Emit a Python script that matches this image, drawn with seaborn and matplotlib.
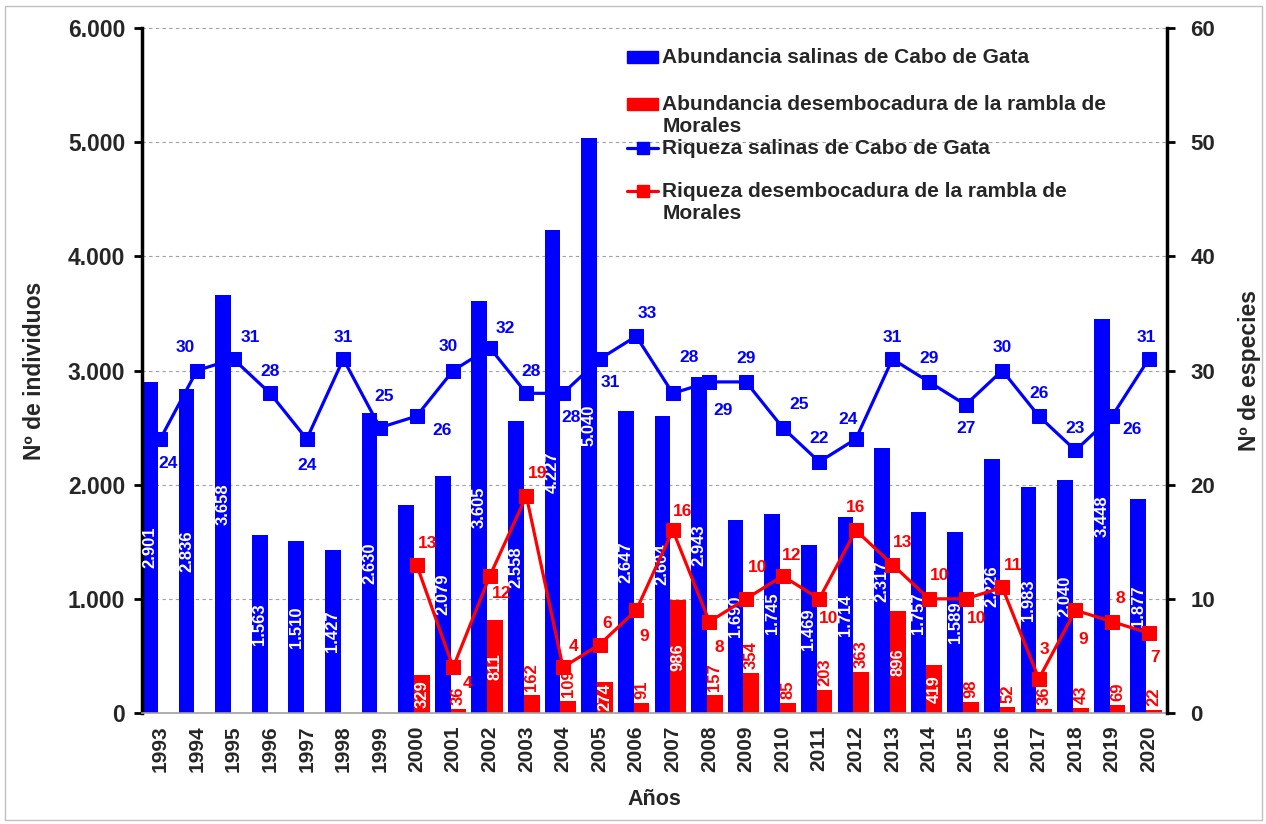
import numpy as np
import pandas as pd
import matplotlib
matplotlib.use("Agg")
import matplotlib.pyplot as plt
import seaborn as sns
from matplotlib.patches import Patch, Rectangle
from matplotlib.lines import Line2D
from matplotlib.ticker import FuncFormatter, FixedLocator

nan = np.nan
# ---------------- data ----------------
years = list(range(1993, 2021))
abund_salinas = [2901, 2836, 3658, 1563, 1510, 1427, 2630, 1820, 2079, 3605, 2558, 4227,
                 5040, 2647, 2604, 2943, 1690, 1745, 1469, 1714, 2317, 1757, 1589, 2226,
                 1983, 2040, 3448, 1877]
abund_rambla = [nan] * 7 + [329, 36, 811, 162, 109, 274, 91, 986, 157, 354, 85, 203, 363,
                            896, 419, 98, 52, 36, 43, 69, 22]
riq_salinas = [24, 30, 31, 28, 24, 31, 25, 26, 30, 32, 28, 28, 31, 33, 28, 29, 29, 25, 22,
               24, 31, 29, 27, 30, 26, 23, 26, 31]
riq_rambla = [nan] * 7 + [13, 4, 12, 19, 4, 6, 9, 16, 8, 10, 12, 10, 16, 13, 10, 10, 11, 3,
                          9, 8, 7]
series = ["Abundancia salinas de Cabo de Gata",
          "Abundancia desembocadura de la rambla de\nMorales",
          "Riqueza salinas de Cabo de Gata",
          "Riqueza desembocadura de la rambla de\nMorales"]

# ---------------- styling / placement ----------------
BLUE, RED = "#0000FF", "#FF0000"
W, H = 1266, 824
sns.set_style("white")
plt.rcParams["font.family"] = ["Liberation Sans", "DejaVu Sans"]
plt.rcParams["font.weight"] = "bold"

hide_bar_label_years = [2000]
red_inside_years = [2000, 2002, 2005, 2007, 2013, 2014]
# label offsets in pixels (dx, dy downward)
blue_off = [(8, 24), (-12, -23), (17, -22), (0, -22), (0, 26), (0, -22), (4, -31), (26, 14),
            (-5, -24), (16, -19), (5, -22), (8, 24), (11, 23), (11, -23), (16, -36), (14, 29),
            (0, -23), (17, -23), (0, -23), (-8, -20), (0, -22), (0, -23), (0, 24), (0, -23),
            (0, -23), (0, -22), (20, 13), (-2, -22)]
red_off = [(11, -21), (14, 16), (12, 18), (11, -23), (11, -21), (8, -21), (8, 26), (10, -19),
           (10, 26), (12, -31), (9, -21), (9, 20), (0, -23), (10, -22), (11, -23), (11, 20),
           (11, -22), (6, -29), (8, 29), (8, -23), (6, 24)]

fig = plt.figure(figsize=(W / 100, H / 100), dpi=100)
ax = fig.add_axes([142 / W, 1 - 713 / H, (1167 - 142) / W, (713 - 28) / H])

ycat = [str(y) for y in years]
df = pd.DataFrame({
    "year": ycat * 2,
    "serie": [series[0]] * len(years) + [series[1]] * len(years),
    "valor": abund_salinas + abund_rambla,
}).dropna()

sns.barplot(data=df, x="year", y="valor", hue="serie", order=ycat,
            hue_order=series[:2], palette=[BLUE, RED], width=0.86, dodge=True,
            saturation=1, errorbar=None, linewidth=0, ax=ax, legend=False)

# shift bar pairs slightly left within the category as in the reference
for c in ax.containers:
    for p in c.patches:
        p.set_x(p.get_x() - 0.07)

ax.set_ylim(0, 6000)
ax.set_xlim(-0.5, len(years) - 0.5)
ax.yaxis.set_major_locator(FixedLocator(np.arange(0, 6001, 1000)))
ax.yaxis.set_major_formatter(FuncFormatter(lambda v, p: f"{int(v):,}".replace(",", ".")))
ax.yaxis.grid(True, linestyle=(0, (3, 3)), color="#a0a0a0", linewidth=0.8)
ax.set_axisbelow(True)

# bar labels
blue_bars = ax.containers[0]
red_bars = ax.containers[1]
for p, v, yr in zip(blue_bars.patches, abund_salinas, years):
    if yr in hide_bar_label_years:
        continue
    ax.text(p.get_x() + p.get_width() / 2, v / 2, f"{v:,}".replace(",", "."),
            rotation=90, ha="center", va="center", color="white",
            fontsize=12, fontweight="bold")
red_years = [y for y, v in zip(years, abund_rambla) if not np.isnan(v)]
red_vals = [v for v in abund_rambla if not np.isnan(v)]
for p, v, yr in zip(red_bars.patches, red_vals, red_years):
    v = int(v)
    xc = p.get_x() + p.get_width() / 2
    if yr in red_inside_years:
        ax.text(xc, v / 2, str(v), rotation=90, ha="center", va="center",
                color="white", fontsize=12, fontweight="bold")
    else:
        ax.annotate(str(v), (xc, v), xytext=(0, 4), textcoords="offset pixels",
                    rotation=90, ha="center", va="bottom", color=RED,
                    fontsize=12, fontweight="bold")

# richness lines on secondary axis
ax2 = ax.twinx()
idx = np.arange(len(years))
sns.lineplot(x=idx, y=riq_salinas, ax=ax2, color=BLUE, marker="s", markersize=10,
             markeredgecolor=BLUE, linewidth=2.3)
ridx = np.array([i for i, v in zip(idx, riq_rambla) if not np.isnan(v)])
rvals = [v for v in riq_rambla if not np.isnan(v)]
sns.lineplot(x=ridx, y=rvals, ax=ax2, color=RED, marker="s", markersize=10,
             markeredgecolor=RED, linewidth=2.3)
ax2.set_ylim(0, 60)
ax2.yaxis.set_major_locator(FixedLocator(np.arange(0, 61, 10)))
ax2.set_xlim(-0.5, len(years) - 0.5)

for i, v, (dx, dy) in zip(idx, riq_salinas, blue_off):
    ax2.annotate(str(v), (i, v), xytext=(dx, -dy), textcoords="offset pixels",
                 ha="center", va="center", color=BLUE, fontsize=12.5, fontweight="bold")
for i, v, (dx, dy) in zip(ridx, rvals, red_off):
    ax2.annotate(str(int(v)), (i, v), xytext=(dx, -dy), textcoords="offset pixels",
                 ha="center", va="center", color=RED, fontsize=12.5, fontweight="bold")

# axes styling
for a in (ax, ax2):
    a.spines["top"].set_visible(False)
ax.spines["left"].set_color("black")
ax.spines["left"].set_linewidth(2.5)
ax.spines["right"].set_visible(False)
ax.spines["bottom"].set_color("#a0a0a0")
ax.spines["bottom"].set_linewidth(1.2)
ax2.spines["left"].set_visible(False)
ax2.spines["bottom"].set_visible(False)
ax2.spines["right"].set_color("black")
ax2.spines["right"].set_linewidth(2.5)

ax.set_xticks(idx)
ax.set_xticklabels(ycat, rotation=90, fontsize=15, fontweight="bold")
ax.set_xticks(np.arange(-0.5, len(years), 1), minor=True)
ax.tick_params(axis="x", which="major", length=0, pad=9)
ax.tick_params(axis="x", which="minor", length=6, color="#a0a0a0", width=1, direction="out")
ax.tick_params(axis="y", which="major", length=6, width=2, color="black",
               direction="out", labelsize=16.5, pad=6, left=True)
ax2.tick_params(axis="y", which="major", length=6, width=2, color="black",
                direction="out", labelsize=16, pad=11, right=True)
for lab in ax.get_yticklabels() + ax2.get_yticklabels():
    lab.set_fontweight("bold")

ax.set_xlabel("Años", fontsize=15.5, fontweight="bold", labelpad=12)
ax.set_ylabel("Nº de individuos", fontsize=16.5, fontweight="bold", labelpad=16)
ax2.set_ylabel("Nº de especies", fontsize=16.5, fontweight="bold", labelpad=16)
ax2.set_xlabel("")

# legend: one entry per slot, handles aligned with first text line
handles = [Patch(facecolor=BLUE, edgecolor=BLUE),
           Patch(facecolor=RED, edgecolor=RED),
           Line2D([], [], color=BLUE, lw=2.3, marker="s", markersize=8),
           Line2D([], [], color=RED, lw=2.3, marker="s", markersize=8)]
leg_first_line_y = [56, 103, 147, 190]
fsz = 15
for h, lab, yc in zip(handles, series, leg_first_line_y):
    lg = fig.legend([h], [lab], loc="upper left",
                    bbox_to_anchor=(627 / W, 1 - (yc - 8) / H),
                    frameon=False, borderpad=0, borderaxespad=0, handlelength=1.5,
                    handleheight=0.5, handletextpad=0.2,
                    prop={"family": "Liberation Sans", "weight": "bold", "size": fsz})
    for col in lg._legend_handle_box.get_children():
        for hp in col.get_children():
            hp.align = "top"
            hb = hp.get_children()[0]
            hb.height += 2

# figure border
fig.add_artist(Rectangle((5 / W, 4 / H), (1262 - 5) / W, (818 - 4) / H,
                         transform=fig.transFigure, fill=False, ec="#c0c0c0", lw=1))

fig.savefig("out.png", dpi=100)
